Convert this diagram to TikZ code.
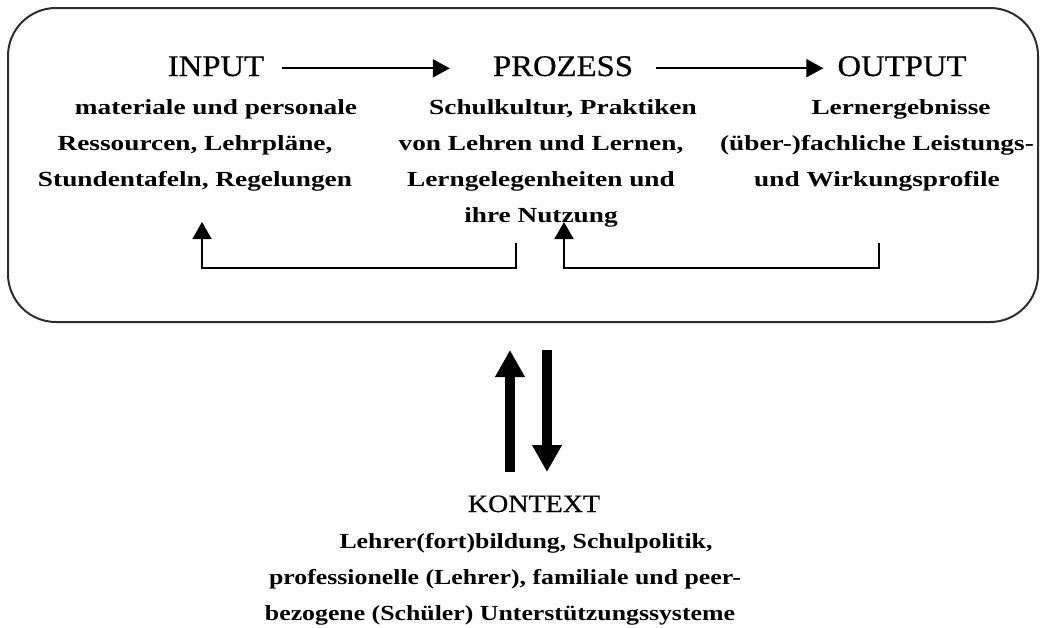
\documentclass[tikz,border=0pt]{standalone}
\usepackage{fontspec}
\setmainfont{Liberation Serif}
\newfontfamily\headfont[FakeStretch=1.09, FakeBold=0.6]{Liberation Serif}
\newfontfamily\ctxheadfont[FakeStretch=1.12, FakeBold=0.6]{Liberation Serif}
\newfontfamily\bodyfont[FakeStretch=1.27]{Liberation Serif}
\newfontfamily\ctxbodyfont[FakeStretch=1.2]{Liberation Serif}
\usetikzlibrary{arrows.meta}

\tikzset{
  heading/.style={font=\headfont\fontsize{30}{30}\selectfont, inner sep=0pt, anchor=base},
  ctxheading/.style={font=\ctxheadfont\fontsize{25}{25}\selectfont, inner sep=0pt, anchor=base},
  % multi-line blocks are placed by the baseline of their last line
  body/.style={font=\bodyfont\bfseries\fontsize{21.5}{36}\selectfont, align=center, inner sep=0pt, anchor=base},
  ctxbody/.style={body, font=\ctxbodyfont\bfseries\fontsize{21.5}{36}\selectfont},
  frame/.style={draw=black!82, line width=2pt, rounded corners=48pt},
  flow/.style={line width=2pt, -{Triangle[length=17pt,width=18pt]}},
  feedback/.style={line width=1.6pt, -{Triangle[length=17pt,width=19pt]}},
  bigarrow/.style={line width=10pt, -{Triangle[length=27pt,width=28pt]}}
}

\begin{document}
\begin{tikzpicture}[x=1pt, y=-1pt]
  \useasboundingbox (0,0) rectangle (1040,627);

  % outer frame around the school model
  \node[frame, minimum width=1030pt, minimum height=314pt] (frame) at (523,165) {};

  % the three stages
  \node[heading] (inhead) at (216,76) {INPUT};
  \node[heading] (prhead) at (563,76) {PROZESS};
  \node[heading] (outhead) at (902,76) {OUTPUT};

  \node[body] (inbody) at (195,186)
    {\hspace*{42pt}materiale und personale\\ Ressourcen, Lehrpläne,\\ Stundentafeln, Regelungen};
  \node[body] (prbody) at (541,222)
    {\hspace*{44pt}Schulkultur, Praktiken\\ von Lehren und Lernen,\\ Lerngelegenheiten und\\ ihre Nutzung};
  \node[body] (outbody) at (877,186)
    {\hspace*{48pt}Lernergebnisse\\ (über-)fachliche Leistungs-\\ und Wirkungsprofile};

  % forward flow
  \draw[flow, shorten <=18pt, shorten >=43pt] ([yshift=-2pt]inhead.east) -- ([yshift=-2pt]inhead.east -| prhead.west);
  \draw[flow, shorten <=23pt, shorten >=14pt] ([yshift=-2pt]prhead.east) -- ([yshift=-2pt]prhead.east -| outhead.west);

  % feedback loops
  \coordinate (fbLstart) at (516,243);
  \coordinate (fbLend) at (202,222);
  \coordinate (fbRstart) at (879,243);
  \coordinate (fbRend) at (564,222);
  \draw[feedback] (fbLstart) -- ++(0,25) -| (fbLend);
  \draw[feedback] (fbRstart) -- ++(0,25) -| (fbRend);

  % exchange with the context
  \coordinate (upfoot) at (510,472);
  \coordinate (uptip) at (510,350);
  \coordinate (dnfoot) at (547,350);
  \coordinate (dntip) at (547,472);
  \draw[bigarrow] (upfoot) -- (uptip);
  \draw[bigarrow] (dnfoot) -- (dntip);

  % context
  \node[ctxheading] (ctxhead) at (534,512) {KONTEXT};
  \node[ctxbody] (ctxbody) at (500,620)
    {\hspace*{52pt}Lehrer(fort)bildung, Schulpolitik,\\ \hspace*{10pt}professionelle (Lehrer), familiale und peer-\\ bezogene (Schüler) Unterstützungssysteme};
\end{tikzpicture}
\end{document}
